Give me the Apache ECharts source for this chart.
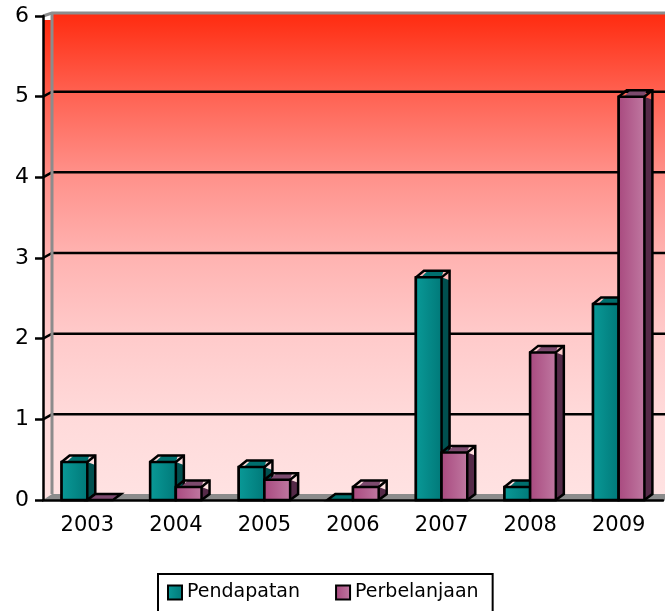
<!DOCTYPE html>
<html>
<head>
<meta charset="utf-8">
<style>
  html, body { margin: 0; padding: 0; background: #fff; }
  #chart { width: 665px; height: 611px; }
</style>
</head>
<body>
<div id="chart"></div>
<script src="https://cdn.jsdelivr.net/npm/echarts@6/dist/echarts.min.js"></script>
<script>
const years = ['2003', '2004', '2005', '2006', '2007', '2008', '2009'];
const pendapatan = [0.47, 0.47, 0.41, 0, 2.76, 0.16, 2.43];
const perbelanjaan = [0, 0.16, 0.25, 0.16, 0.59, 1.83, 5.0];
const yTicks = [1, 2, 3, 4, 5];

const FONT = 'DejaVu Sans';
const DX = 9;   // depth of the fake 3d box
const DY = 6;
const BAR_DX = 8;
const LINE = 2.5;

function hGrad(a, b) {
  return { type: 'linear', x: 0, y: 0, x2: 1, y2: 0, colorStops: [{ offset: 0, color: a }, { offset: 1, color: b }] };
}

const wallGrad = {
  type: 'linear', x: 0, y: 0, x2: 0, y2: 1,
  colorStops: [
    { offset: 0, color: '#ff2a0e' },
    { offset: 0.17, color: '#ff6252' },
    { offset: 0.33, color: '#ff8f88' },
    { offset: 0.5, color: '#ffb2b0' },
    { offset: 0.67, color: '#ffcaca' },
    { offset: 0.84, color: '#ffdada' },
    { offset: 1, color: '#ffe2e2' }
  ]
};

function renderWall(params, api) {
  const cs = params.coordSys;
  const top = cs.y, bottom = cs.y + cs.height, left = cs.x, right = 665;
  const line = { stroke: '#000', lineWidth: LINE, fill: 'none' };
  const grey = { stroke: '#8c8c8c', lineWidth: 3, fill: 'none' };
  const children = [
    { type: 'polygon', shape: { points: [[left + DX, top - 4], [right, top - 4], [right, bottom - DY], [left + DX, bottom - DY]] }, style: { fill: wallGrad } },
    { type: 'polygon', shape: { points: [[left, top + 4], [left + DX, top + 4], [left + DX, bottom - DY], [left, bottom]] }, style: { fill: wallGrad } },
    { type: 'polygon', shape: { points: [[left, bottom], [left + DX, bottom - DY], [right, bottom - DY], [right, bottom]] }, style: { fill: '#8c8c8c' } }
  ];
  yTicks.forEach(function (t) {
    const y = api.coord([0, t])[1];
    children.push({ type: 'polyline', shape: { points: [[left, y], [left + DX, y - DY + 1], [right, y - DY + 1]] }, style: line });
  });
  children.push({ type: 'polyline', shape: { points: [[left, top], [left + DX, top - 3], [right, top - 3]] }, style: grey });
  children.push({ type: 'line', shape: { x1: left + DX, y1: top - 3, x2: left + DX, y2: bottom - DY }, style: grey });
  return { type: 'group', children: children };
}

function barRenderer(side, front, dark, mid) {
  return function (params, api) {
    const val = api.value(1);
    const p = api.coord([api.value(0), val]);
    const base = api.coord([api.value(0), 0])[1];
    const w = api.size([1, 0])[0] * 0.29;
    const x1 = side < 0 ? p[0] - w : p[0];
    const x2 = x1 + w;
    const yt = p[1];
    const outline = { stroke: '#000', lineWidth: LINE, fill: 'none' };
    const children = [];
    // flat bar, only the lid is visible
    if (val === 0) {
      children.push({ type: 'polygon', shape: { points: [[x1, base], [x1 + BAR_DX, base - DY], [x2 + BAR_DX, base - DY], [x2, base]] }, style: { fill: mid, stroke: '#000', lineWidth: LINE } });
      return { type: 'group', children: children };
    }
    const rise = Math.min(6.5, base - yt);
    // inside of the lid and the side are filled a bit lower, as in the original render
    children.push({ type: 'polygon', shape: { points: [[x2, yt], [x2 + BAR_DX, yt + 3], [x2 + BAR_DX, base - DY], [x2, base]] }, style: { fill: dark } });
    children.push({ type: 'polygon', shape: { points: [[x1 + 12, yt - rise], [x2 + 2, yt - rise], [x2, yt], [x1 + 5, yt]] }, style: { fill: mid } });
    children.push({ type: 'polygon', shape: { points: [[x1, yt], [x1 + BAR_DX, yt - rise], [x2 + BAR_DX, yt - rise], [x2 + BAR_DX, base - DY], [x2, base], [x1, base]] }, style: outline });
    children.push({ type: 'polyline', shape: { points: [[x2 + BAR_DX, yt - rise], [x2, yt]] }, style: outline });
    children.push({ type: 'rect', shape: { x: x1, y: yt, width: w, height: base - yt }, style: { fill: front, stroke: '#000', lineWidth: LINE } });
    return { type: 'group', children: children };
  };
}

const tealFront = hGrad('#0a9a98', '#007878');
const pinkFront = hGrad('#a8487e', '#c07aa2');

const chart = echarts.init(document.getElementById('chart'), null, { renderer: 'canvas' });
chart.setOption({
  animation: false,
  backgroundColor: '#fff',
  grid: { left: 43, top: 16, width: 620, height: 484 },
  xAxis: {
    type: 'category',
    data: years,
    z: 5,
    axisLine: { lineStyle: { color: '#000', width: LINE } },
    axisTick: { length: 8, lineStyle: { color: '#000', width: LINE } },
    axisLabel: { color: '#000', fontFamily: FONT, fontSize: 21, margin: 15 },
    splitLine: { show: false }
  },
  yAxis: {
    type: 'value',
    min: 0,
    max: 6,
    interval: 1,
    z: 5,
    axisLine: { show: true, lineStyle: { color: '#000', width: LINE } },
    axisTick: { show: true, length: 8, lineStyle: { color: '#000', width: LINE } },
    axisLabel: { color: '#000', fontFamily: FONT, fontSize: 22, margin: 14, padding: [3, 0, 0, 0] },
    splitLine: { show: false }
  },
  legend: {
    left: 158,
    top: 574,
    orient: 'horizontal',
    padding: [9, 14, 40, 9],
    itemWidth: 14,
    itemHeight: 14,
    itemGap: 35,
    borderColor: '#000',
    borderWidth: 2,
    backgroundColor: '#fff',
    textStyle: { color: '#000', fontFamily: FONT, fontSize: 19 },
    data: [
      { name: 'Pendapatan', icon: 'rect', itemStyle: { color: tealFront, borderColor: '#000', borderWidth: 2 } },
      { name: 'Perbelanjaan', icon: 'rect', itemStyle: { color: pinkFront, borderColor: '#000', borderWidth: 2 } }
    ]
  },
  series: [
    {
      name: 'wall',
      type: 'custom',
      z: 1,
      silent: true,
      renderItem: renderWall,
      data: [[0, 0]]
    },
    {
      name: 'Pendapatan',
      type: 'custom',
      z: 2,
      renderItem: barRenderer(-1, tealFront, '#00504f', '#006f6e'),
      itemStyle: { color: '#008080' },
      encode: { x: 0, y: 1 },
      data: years.map(function (y, i) { return [i, pendapatan[i]]; })
    },
    {
      name: 'Perbelanjaan',
      type: 'custom',
      z: 3,
      renderItem: barRenderer(1, pinkFront, '#552a48', '#7c4a6e'),
      itemStyle: { color: '#a8487e' },
      encode: { x: 0, y: 1 },
      data: years.map(function (y, i) { return [i, perbelanjaan[i]]; })
    }
  ]
});
</script>
</body>
</html>
